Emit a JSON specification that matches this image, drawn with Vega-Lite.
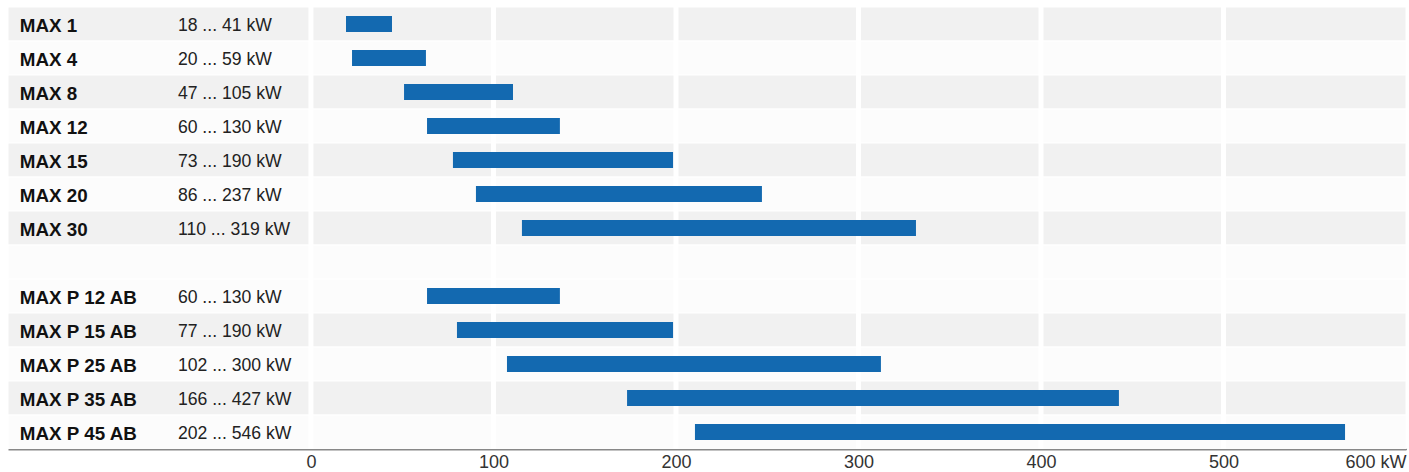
{
  "$schema": "https://vega.github.io/schema/vega-lite/v6.json",
  "width": 1398,
  "height": 442,
  "autosize": {"type": "none"},
  "padding": {"left": 8, "top": 7, "right": 3, "bottom": 23},
  "background": "white",
  "config": {"view": {"stroke": null}, "font": "Liberation Sans"},
  "datasets": {
    "rows": [
      {"row": "MAX 1", "shade": "g"},
      {"row": "MAX 4", "shade": "w"},
      {"row": "MAX 8", "shade": "g"},
      {"row": "MAX 12", "shade": "w"},
      {"row": "MAX 15", "shade": "g"},
      {"row": "MAX 20", "shade": "w"},
      {"row": "MAX 30", "shade": "g"},
      {"row": " ", "shade": "w"},
      {"row": "MAX P 12 AB", "shade": "w"},
      {"row": "MAX P 15 AB", "shade": "g"},
      {"row": "MAX P 25 AB", "shade": "w"},
      {"row": "MAX P 35 AB", "shade": "g"},
      {"row": "MAX P 45 AB", "shade": "w"}
    ],
    "models": [
      {"row": "MAX 1", "range": "18 ... 41 kW", "lo": 19.2, "hi": 44.4},
      {"row": "MAX 4", "range": "20 ... 59 kW", "lo": 22.5, "hi": 63.0},
      {"row": "MAX 8", "range": "47 ... 105 kW", "lo": 51.0, "hi": 110.7},
      {"row": "MAX 12", "range": "60 ... 130 kW", "lo": 63.6, "hi": 136.4},
      {"row": "MAX 15", "range": "73 ... 190 kW", "lo": 77.8, "hi": 198.4},
      {"row": "MAX 20", "range": "86 ... 237 kW", "lo": 90.4, "hi": 247.1},
      {"row": "MAX 30", "range": "110 ... 319 kW", "lo": 115.6, "hi": 331.5},
      {"row": "MAX P 12 AB", "range": "60 ... 130 kW", "lo": 63.6, "hi": 136.4},
      {"row": "MAX P 15 AB", "range": "77 ... 190 kW", "lo": 80.0, "hi": 198.4},
      {"row": "MAX P 25 AB", "range": "102 ... 300 kW", "lo": 107.4, "hi": 312.3},
      {"row": "MAX P 35 AB", "range": "166 ... 427 kW", "lo": 173.2, "hi": 442.7},
      {"row": "MAX P 45 AB", "range": "202 ... 546 kW", "lo": 210.4, "hi": 566.6}
    ],
    "grid": [{"g": 0}, {"g": 100}, {"g": 200}, {"g": 300}, {"g": 400}, {"g": 500}]
  },
  "data": {"name": "models"},
  "encoding": {
    "y": {
      "field": "row",
      "type": "nominal",
      "scale": {
        "type": "band",
        "paddingInner": 0,
        "paddingOuter": 0,
        "domain": ["MAX 1", "MAX 4", "MAX 8", "MAX 12", "MAX 15", "MAX 20", "MAX 30", " ", "MAX P 12 AB", "MAX P 15 AB", "MAX P 25 AB", "MAX P 35 AB", "MAX P 45 AB"]
      },
      "axis": null
    }
  },
  "layer": [
    {
      "data": {"name": "rows"},
      "mark": {"type": "rect", "stroke": "white", "strokeWidth": 1},
      "encoding": {
        "x": {
          "datum": -166,
          "type": "quantitative",
          "scale": {"domain": [-166, 600], "nice": false, "zero": false},
          "axis": {
            "values": [0, 100, 200, 300, 400, 500, 600],
            "title": null,
            "grid": false,
            "ticks": false,
            "tickSize": 0,
            "domainColor": "#111111",
            "domainWidth": 1.5,
            "labelFontSize": 18,
            "labelColor": "#333333",
            "labelPadding": 4,
            "labelFont": "Liberation Sans",
            "labelExpr": "datum.value == 600 ? '600 kW' : datum.label",
            "labelAlign": {"condition": {"test": "datum.value == 600", "value": "right"}, "value": "center"}
          }
        },
        "x2": {"datum": 600},
        "color": {
          "field": "shade",
          "type": "nominal",
          "scale": {"domain": ["g", "w"], "range": ["#f1f1f1", "#fcfcfc"]},
          "legend": null
        }
      }
    },
    {
      "data": {"name": "grid"},
      "mark": {"type": "rule", "color": "white", "strokeWidth": 5},
      "encoding": {
        "x": {"field": "g", "type": "quantitative"},
        "y": null
      }
    },
    {
      "mark": {"type": "bar", "color": "#1369b0", "height": {"band": 0.47}},
      "encoding": {
        "x": {"field": "lo", "type": "quantitative"},
        "x2": {"field": "hi"}
      }
    },
    {
      "mark": {"type": "text", "align": "left", "baseline": "middle", "dy": 1.5, "fontSize": 18.8, "fontWeight": "bold", "color": "#111111", "font": "Liberation Sans"},
      "encoding": {
        "x": {"datum": -159.5, "type": "quantitative"},
        "text": {"field": "row"}
      }
    },
    {
      "mark": {"type": "text", "align": "left", "baseline": "middle", "dy": 1.5, "fontSize": 17.6, "color": "#222222", "font": "Liberation Sans"},
      "encoding": {
        "x": {"datum": -72.9, "type": "quantitative"},
        "text": {"field": "range"}
      }
    }
  ]
}
